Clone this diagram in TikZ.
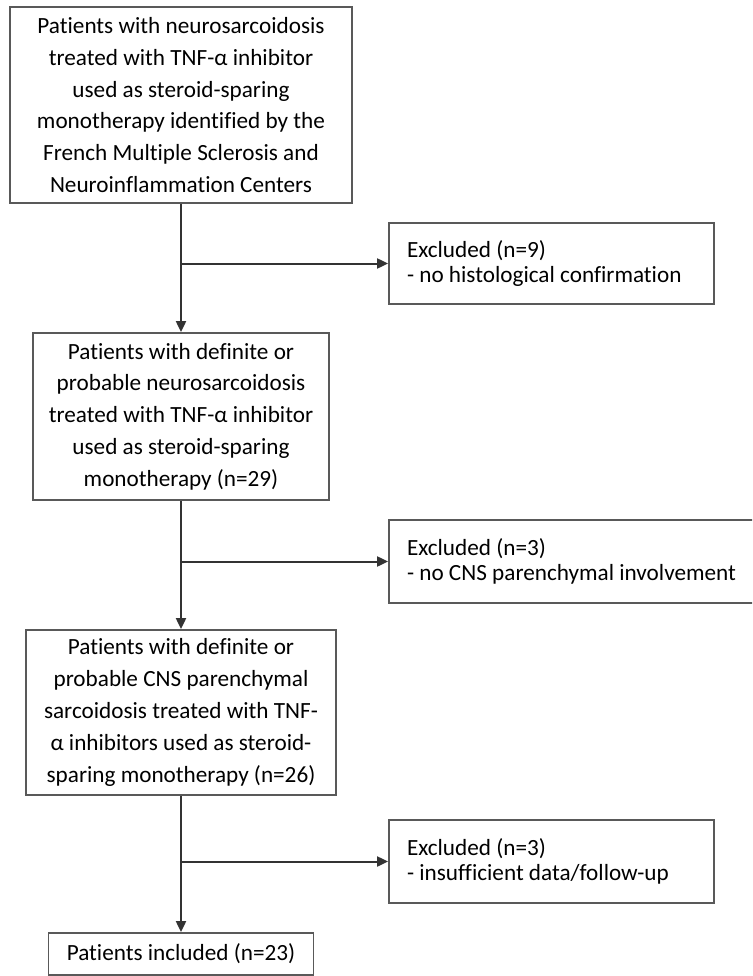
\documentclass[tikz,border=0pt]{standalone}
\usepackage{fontspec}
\setmainfont[Ligatures=NoCommon]{Carlito}
\usetikzlibrary{arrows.meta}
\begin{document}
\begin{tikzpicture}[x=1pt,y=-1pt,
  box/.style={draw=black!65, line width=1.8pt, inner sep=0pt, align=center, text=black, font=\fontsize{23.2}{31.8}\selectfont},
  exbox/.style={draw=black!65, line width=1.8pt, inner xsep=18pt, inner ysep=0pt, align=flush left, text=black, font=\fontsize{23.2}{25}\selectfont},
  arr/.style={draw=black!80, line width=2pt, -{Triangle[length=11pt,width=10pt]}}]
  \clip (0,0) rectangle (752,976); % page size

  \node[box, minimum width=342pt, minimum height=196pt] (box1) at (181,105) {Patients with neurosarcoidosis\\treated with TNF-α inhibitor\\used as steroid-sparing\\monotherapy identified by the\\French Multiple Sclerosis and\\Neuroinflammation Centers};
  \node[box, minimum width=296pt, minimum height=167pt] (box2) at (181,416.5) {Patients with definite or\\probable neurosarcoidosis\\treated with TNF-α inhibitor\\used as steroid-sparing\\monotherapy (n=29)};
  \node[box, minimum width=310pt, minimum height=165pt] (box3) at (181,712.5) {Patients with definite or\\probable CNS parenchymal\\sarcoidosis treated with TNF-\\α inhibitors used as steroid-\\sparing monotherapy (n=26)};
  \node[box, minimum width=265pt, minimum height=42pt] (box4) at (181,954) {Patients included (n=23)};

  \node[exbox, text width=289pt, minimum height=81pt] (excl1) at (551.5,263.5) {Excluded (n=9)\\- no histological confirmation};
  \node[exbox, text width=337pt, minimum height=83pt] (excl2) at (575.5,561.5) {Excluded (n=3)\\- no CNS parenchymal involvement};
  \node[exbox, text width=289pt, minimum height=83pt] (excl3) at (551.5,861.5) {Excluded (n=3)\\- insufficient data/follow-up};

  \coordinate (b1) at (181,263.5); % branch points
  \coordinate (b2) at (181,561.5);
  \coordinate (b3) at (181,861.5);

  \draw[arr] (box1) -- (box2);
  \draw[arr] (box2) -- (box3);
  \draw[arr] (box3) -- (box4);
  \draw[arr] (b1) -- (excl1);
  \draw[arr] (b2) -- (excl2);
  \draw[arr] (b3) -- (excl3);
\end{tikzpicture}
\end{document}
